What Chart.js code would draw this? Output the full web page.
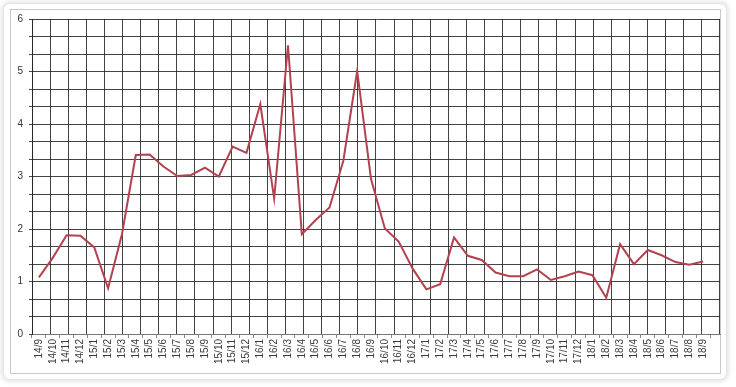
<!DOCTYPE html>
<html>
<head>
<meta charset="utf-8">
<script src="https://cdn.jsdelivr.net/npm/chart.js@4/dist/chart.umd.min.js"></script>
<style>
  html, body { margin:0; padding:0; background:#fff; }
  #wrap { position:relative; width:736px; height:387px; overflow:hidden; }
  #card { position:absolute; left:3px; top:3px; width:722px; height:375px; border-radius:7px;
          background:#fff; box-shadow:0 0 4px 2px rgba(0,0,0,0.10); border:1px solid #e4e4e4; }
  #frame { position:absolute; left:10px; top:9px; width:709px; height:363px; border:1px solid #c8c8c8; }
  canvas { position:absolute; left:0; top:0; }
</style>
</head>
<body>
<div id="wrap">
  <div id="card"></div>
  <div id="frame"></div>
  <canvas id="c" width="736" height="387"></canvas>
</div>
<script>
const months = ["14/9","14/10","14/11","14/12",
  "15/1","15/2","15/3","15/4","15/5","15/6","15/7","15/8","15/9","15/10","15/11","15/12",
  "16/1","16/2","16/3","16/4","16/5","16/6","16/7","16/8","16/9","16/10","16/11","16/12",
  "17/1","17/2","17/3","17/4","17/5","17/6","17/7","17/8","17/9","17/10","17/11","17/12",
  "18/1","18/2","18/3","18/4","18/5","18/6","18/7","18/8","18/9"];
const values = [1.08,1.45,1.88,1.87,1.65,0.87,1.9,3.41,3.42,3.19,3.01,3.03,3.17,3.0,3.57,3.45,
  4.38,2.58,5.5,1.9,2.17,2.41,3.3,5.01,2.95,2.01,1.76,1.25,
  0.85,0.95,1.84,1.49,1.41,1.17,1.10,1.10,1.23,1.03,1.10,1.19,
  1.12,0.69,1.71,1.33,1.6,1.5,1.37,1.32,1.38];
const yTickValues = [0,1,2,3,4,5,6];

const gridColor = 'rgba(35,35,35,0.85)';
const points = values.map((v,i)=>({x:i, y:v}));

new Chart(document.getElementById('c'), {
  type: 'line',
  data: { datasets: [{ data: points, borderColor: '#b3424f', borderWidth: 2,
    pointRadius: 0, tension: 0, fill: false }] },
  options: {
    responsive: false, animation: false,
    plugins: { legend: { display: false }, tooltip: { enabled: false } },
    layout: { padding: { top: 19, right: 16, bottom: 12, left: 0 } },
    scales: {
      x: {
        type: 'linear', min: -0.5, max: 49.22,
        afterBuildTicks: s => { s.ticks = months.map((_,i)=>({value:i})); },
        afterFit: s => { s.height = 41; },
        grid: { drawOnChartArea: false, drawTicks: true, tickLength: 4, offset: true, color: '#888' },
        border: { display: true, color: '#777' },
        ticks: { autoSkip: false, minRotation: 90, maxRotation: 90, padding: 1,
          color: '#3a3a3a', font: { family: 'Liberation Sans, Arial, sans-serif', size: 10 },
          callback: v => (months[v] !== undefined ? months[v] : '') }
      },
      xg: {
        type: 'linear', position: 'top', min: 0, max: 38.01,
        afterBuildTicks: s => { const t=[]; for (let k=0;k<=38;k++) t.push({value:k}); s.ticks=t; },
        afterFit: s => { s.height = 0; },
        grid: { color: gridColor, lineWidth: 1, drawTicks: false },
        border: { display: false },
        ticks: { display: false }
      },
      y: {
        min: 0, max: 6,
        afterBuildTicks: s => { const t=[]; for (let k=0;k<=18;k++) t.push({value:k/3}); s.ticks=t; },
        afterFit: s => { s.width = 32; },
        grid: { color: gridColor, lineWidth: 1, tickLength: 3 },
        border: { display: true, color: gridColor },
        ticks: { padding: 6, color: '#333', font: { family: 'Liberation Sans, Arial, sans-serif', size: 10 },
          callback: v => { const r = Math.round(v); return Math.abs(v - r) < 1e-6 && yTickValues.includes(r) ? String(r) : ''; } }
      }
    }
  }
});
</script>
</body>
</html>
